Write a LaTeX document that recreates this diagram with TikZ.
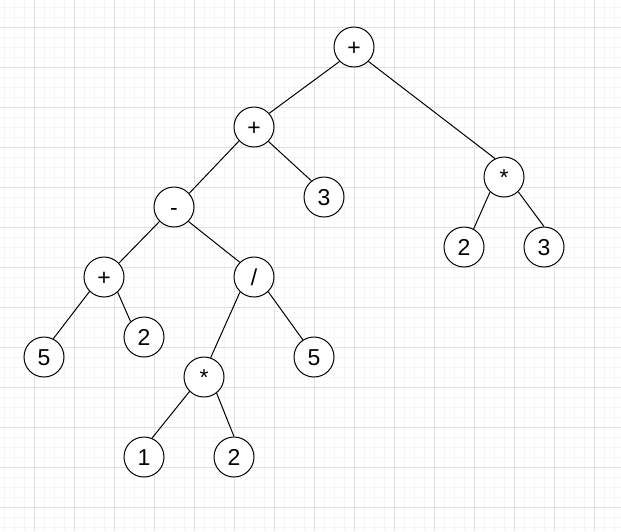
\documentclass[tikz,border=0pt]{standalone}
\usepackage{fontspec}
\setmainfont{Liberation Sans}
\begin{document}
\begin{tikzpicture}[x=1pt,y=-1pt,
  nd/.style={circle,draw=black,line width=1pt,fill=white,minimum size=40pt,inner sep=0pt,
    font=\fontsize{23}{23}\selectfont,text height=16.5pt,text depth=0pt},
  edge/.style={line width=1pt,draw=black},
  gridminor/.style={draw=black!4,line width=1pt},
  gridmajor/.style={draw=black!12,line width=1pt}]
\fill[white] (0,0) rectangle (621,531);
\useasboundingbox (0,0) rectangle (621,531);
\foreach \x in {4,14,...,620} \draw[gridminor] (\x,0) -- (\x,531);
\foreach \y in {7,17,...,530} \draw[gridminor] (0,\y) -- (621,\y);
\foreach \x in {34,74,...,620} \draw[gridmajor] (\x,0) -- (\x,531);
\foreach \y in {27,67,...,530} \draw[gridmajor] (0,\y) -- (621,\y);

\node[nd] (r) at (354,47) {+};
\node[nd] (a) at (254,127) {+};
\node[nd] (b) at (324,197) {3};
\node[nd] (c) at (504,177) {*};
\node[nd] (d) at (464,247) {2};
\node[nd] (e) at (544,247) {3};
\node[nd] (f) at (174,207) {-};
\node[nd] (g) at (104,277) {+};
\node[nd] (h) at (254,277) {/};
\node[nd] (i) at (44,357) {5};
\node[nd] (j) at (144,337) {2};
\node[nd] (k) at (204,377) {*};
\node[nd] (l) at (314,357) {5};
\node[nd] (m) at (144,457) {1};
\node[nd] (n) at (234,457) {2};

\draw[edge] (r.225) -- (a.42);
\draw[edge] (r.-45) -- (c.116);
\draw[edge] (a.223) -- (f.42);
\draw[edge] (a.-45) -- (b.128);
\draw[edge] (f.225) -- (g.43);
\draw[edge] (f.-45) -- (h.134);
\draw[edge] (g.225) -- (i.63);
\draw[edge] (g.-48) -- (j.131);
\draw[edge] (h.227) -- (k.71);
\draw[edge] (h.-46) -- (l.123);
\draw[edge] (k.225) -- (m.67);
\draw[edge] (k.-52) -- (n.90);
\draw[edge] (c.227) -- (d.62);
\draw[edge] (c.-46) -- (e.90);
\end{tikzpicture}
\end{document}
